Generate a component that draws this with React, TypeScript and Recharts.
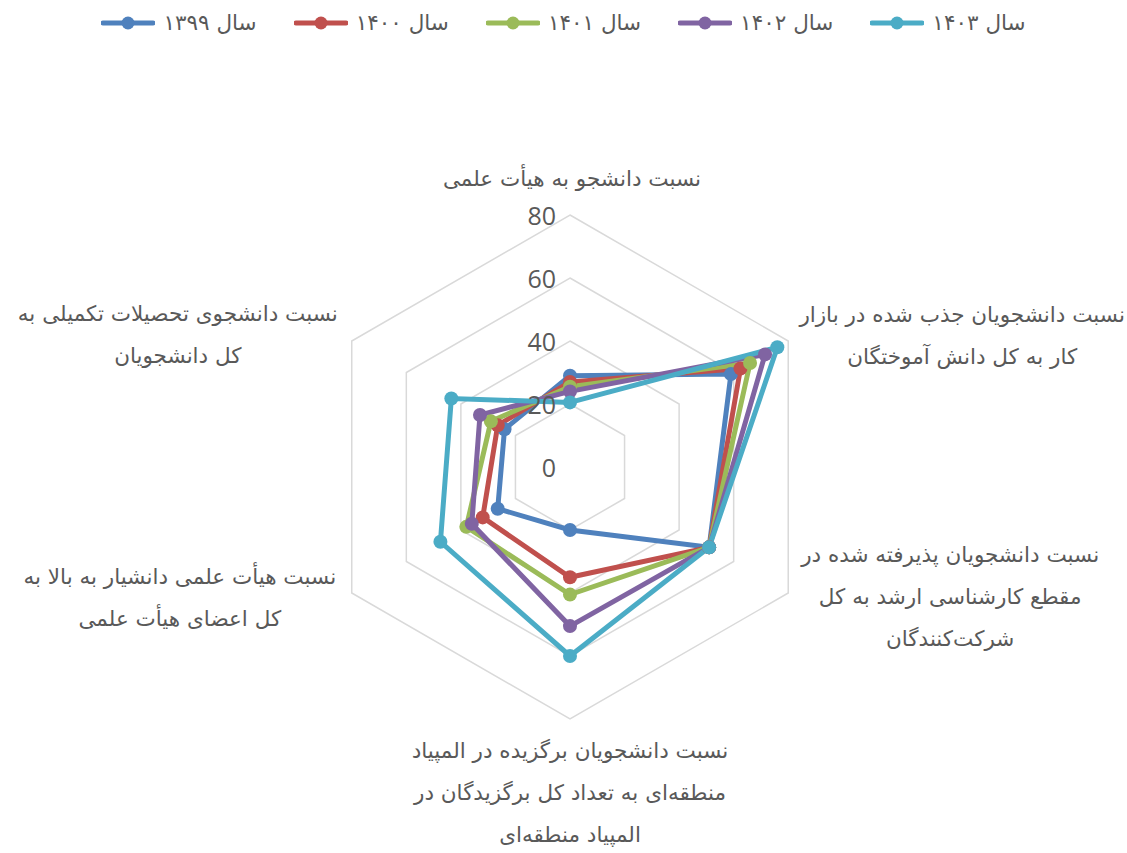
import React from "react";
import { RadarChart, Radar, PolarGrid, PolarAngleAxis, PolarRadiusAxis, Legend } from "recharts";

const categoryLines: string[][] = [
  ["نسبت دانشجو به هیأت علمی"],
  ["نسبت دانشجویان جذب شده در بازار", "کار به کل دانش آموختگان"],
  ["نسبت دانشجویان پذیرفته شده در", "مقطع کارشناسی ارشد به کل", "شرکت‌کنندگان"],
  ["نسبت دانشجویان برگزیده در المپیاد", "منطقه‌ای به تعداد کل برگزیدگان در", "المپیاد منطقه‌ای"],
  ["نسبت هیأت علمی دانشیار به بالا به", "کل اعضای هیأت علمی"],
  ["نسبت دانشجوی تحصیلات تکمیلی به", "کل دانشجویان"],
];
const categories = categoryLines.map((l) => l.join(" "));

const seriesNames = ["سال ۱۳۹۹", "سال ۱۴۰۰", "سال ۱۴۰۱", "سال ۱۴۰۲", "سال ۱۴۰۳"];
const seriesColors = ["#4F81BD", "#C0504D", "#9BBB59", "#8064A2", "#4BACC6"];

const s1399 = [29, 59, 51, 20, 26.5, 24];
const s1400 = [27, 62.5, 51, 35, 32, 26.5];
const s1401 = [25.5, 66, 51, 40.5, 38, 29];
const s1402 = [24, 71.5, 51, 50.5, 36, 33];
const s1403 = [20.5, 76, 51, 60, 47.5, 43.5];
const seriesValues = [s1399, s1400, s1401, s1402, s1403];

const radiusTicks = [0, 20, 40, 60, 80];

const data = categories.map((name, i) => {
  const row: Record<string, string | number> = { name };
  seriesNames.forEach((s, j) => {
    row[s] = seriesValues[j][i];
  });
  return row;
});

const labelStyle = [
  { dx: 2, dy: -29 },
  { dx: 167, dy: -23 },
  { dx: 155, dy: -43 },
  { dx: 0, dy: 23 },
  { dx: -165, dy: -21 },
  { dx: -167, dy: -24 },
];
const LINE_H = 42;
const TEXT_COLOR = "#595959";
const FA_FONT = "'DejaVu Sans', sans-serif";

const AngleTick = (props: any) => {
  const { x, y, payload } = props;
  const idx = categories.indexOf(payload.value);
  const lines = categoryLines[idx] || [String(payload.value)];
  const st = labelStyle[idx] || { dx: 0, dy: 0 };
  return (
    <text
      textAnchor="middle"
      fill={TEXT_COLOR}
      fontSize={21.5}
      fontFamily={FA_FONT}
      dominantBaseline="central"
    >
      {lines.map((l, k) => (
        <tspan key={k} x={x + st.dx} y={y + st.dy + k * LINE_H}>
          {l}
        </tspan>
      ))}
    </text>
  );
};

const RadiusTick = (props: any) => {
  const { x, y, payload } = props;
  return (
    <text
      x={x - 14}
      y={y}
      textAnchor="end"
      dominantBaseline="central"
      fill={TEXT_COLOR}
      fontSize={25}
      fontFamily="'Open Sans', sans-serif"
    >
      {payload.value}
    </text>
  );
};

const LegendContent = (props: any) => {
  const payload = props.payload || [];
  return (
    <div style={{ display: "flex", justifyContent: "center", gap: 37, fontFamily: FA_FONT }}>
      {payload.map((p: any, i: number) => (
        <div key={i} style={{ display: "flex", alignItems: "center" }}>
          <svg width={54} height={16}>
            <line x1={2} y1={8} x2={52} y2={8} stroke={p.color} strokeWidth={5} strokeLinecap="round" />
            <circle cx={27} cy={8} r={6.5} fill={p.color} />
          </svg>
          <span style={{ color: TEXT_COLOR, fontSize: 21.5, marginLeft: 8, direction: "rtl" }}>{p.value}</span>
        </div>
      ))}
    </div>
  );
};

const makeDot = (color: string) => (p: any) => (
  <circle key={`${color}-${p.index}`} cx={p.cx} cy={p.cy} r={7} fill={color} stroke="none" />
);

export default function App() {
  return (
    <div style={{ position: "absolute", left: 0, top: 0, background: "#fff" }}>
      <RadarChart
        width={1127}
        height={853}
        data={data}
        cx={570}
        cy={467}
        outerRadius={252}
        startAngle={90}
        endAngle={-270}
      >
        <Legend
          verticalAlign="top"
          align="center"
          content={<LegendContent />}
          wrapperStyle={{ top: 10, left: 0, width: 1127 }}
        />
        <PolarGrid gridType="polygon" radialLines={false} stroke="#D9D9D9" strokeWidth={1.5} polarRadius={[63, 126, 189, 252]} />
        <PolarAngleAxis dataKey="name" tick={<AngleTick />} axisLine={false} tickLine={false} />
        {seriesNames.map((s, j) => (
          <Radar
            key={s}
            name={s}
            dataKey={s}
            stroke={seriesColors[j]}
            strokeWidth={5}
            fill="none"
            fillOpacity={0}
            dot={makeDot(seriesColors[j])}
            isAnimationActive={false}
          />
        ))}
        <PolarRadiusAxis
          angle={90}
          domain={[0, 80]}
          ticks={radiusTicks as any}
          tickCount={5}
          axisLine={false}
          tickLine={false}
          tick={<RadiusTick />}
        />
      </RadarChart>
    </div>
  );
}
